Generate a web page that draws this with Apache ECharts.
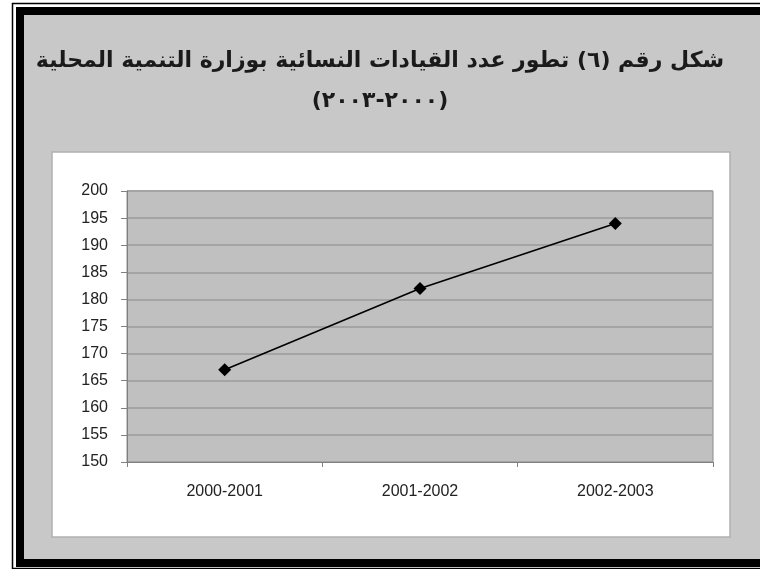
<!DOCTYPE html>
<html>
<head>
<meta charset="utf-8">
<script src="https://cdn.jsdelivr.net/npm/echarts@6/dist/echarts.min.js"></script>
<style>
  html, body { margin: 0; padding: 0; background: #ffffff; }
  #chart { width: 760px; height: 569px; }
</style>
</head>
<body>
<div id="chart"></div>
<script>
// Women in leadership at the Ministry of Local Development, 2000-2003
const titleLine1 = 'شكل رقم (٦) تطور عدد القيادات النسائية بوزارة التنمية المحلية';
const titleLine2 = '\u200F(٢٠٠٠-٢٠٠٣)\u200F';
const categories = ['2000-2001', '2001-2002', '2002-2003'];
const leaders = [167, 182, 194];
const yMin = 150;
const yMax = 200;
const yStep = 5;

const chart = echarts.init(document.getElementById('chart'), null, { renderer: 'canvas' });

const titleFont = {
  fontFamily: 'DejaVu Sans',
  fontWeight: 'bold',
  fontSize: 22,
  fill: '#1a1a1a',
  align: 'center',
  verticalAlign: 'middle'
};

chart.setOption({
  animation: false,
  backgroundColor: '#ffffff',
  graphic: [
    // double black frame with grey panel
    { type: 'rect', z: -10, silent: true, shape: { x: 12.5, y: 3.5, width: 800, height: 565 },
      style: { fill: null, stroke: '#000', lineWidth: 1.5 } },
    { type: 'rect', z: -9, silent: true, shape: { x: 16, y: 7, width: 800, height: 560 },
      style: { fill: '#000' } },
    { type: 'rect', z: -8, silent: true, shape: { x: 24, y: 15, width: 800, height: 544 },
      style: { fill: '#c8c8c8' } },
    // white chart panel
    { type: 'rect', z: -7, silent: true, shape: { x: 52, y: 152, width: 678, height: 385 },
      style: { fill: '#ffffff', stroke: '#b0b0b0', lineWidth: 1.5 } },
    // two-line heading
    { type: 'text', z: 10, silent: true, x: 380, y: 61,
      style: Object.assign({ text: titleLine1 }, titleFont) },
    { type: 'text', z: 10, silent: true, x: 380, y: 101,
      style: Object.assign({ text: titleLine2 }, titleFont) }
  ],
  grid: {
    left: 127,
    top: 191,
    width: 586,
    height: 271,
    show: true,
    backgroundColor: '#c0c0c0',
    borderColor: '#8c8c8c',
    borderWidth: 1
  },
  xAxis: {
    type: 'category',
    data: categories,
    boundaryGap: true,
    axisLine: { show: true, lineStyle: { color: '#808080', width: 1 } },
    axisTick: { show: true, length: 5, lineStyle: { color: '#808080' } },
    axisLabel: { fontFamily: 'Liberation Sans', fontSize: 16, color: '#222', margin: 22 },
    splitLine: { show: false }
  },
  yAxis: {
    type: 'value',
    min: yMin,
    max: yMax,
    interval: yStep,
    axisLine: { show: true, lineStyle: { color: '#808080', width: 1 } },
    axisTick: { show: true, length: 6, lineStyle: { color: '#808080' } },
    axisLabel: { fontFamily: 'Liberation Sans', fontSize: 16, color: '#222', margin: 19 },
    splitLine: { show: true, lineStyle: { color: '#a4a4a4', width: 2 } }
  },
  series: [{
    type: 'line',
    data: leaders,
    symbol: 'diamond',
    symbolSize: 13,
    itemStyle: { color: '#000' },
    lineStyle: { color: '#000', width: 1.6 }
  }]
});
</script>
</body>
</html>
